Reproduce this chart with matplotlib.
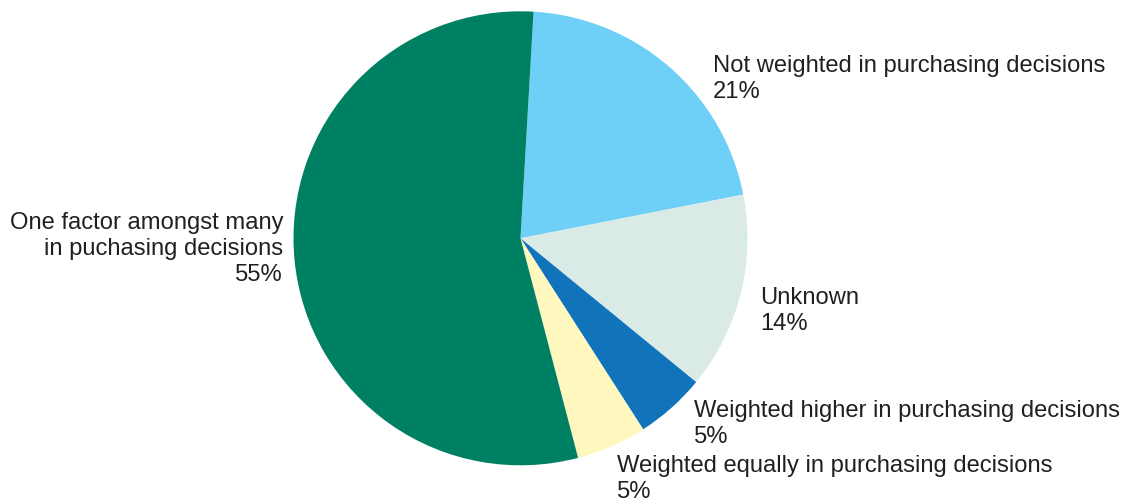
import matplotlib
matplotlib.use("Agg")
import matplotlib.pyplot as plt

categories = ["Not weighted in purchasing decisions", "Unknown",
              "Weighted higher in purchasing decisions",
              "Weighted equally in purchasing decisions",
              "One factor amongst many\nin puchasing decisions"]
values = [21, 14, 5, 5, 55]
pct_labels = ["21%", "14%", "5%", "5%", "55%"]
colors = ["#6ED0F6", "#D9EAE7", "#1174BB", "#FEF7BE", "#008062"]

W, H = 1130, 503
fig = plt.figure(figsize=(W / 100, H / 100), dpi=100)
ax = fig.add_axes([0, 0, 1, 1])

cx, cy, r = 520.5, H - 238.3, 227
ax.pie(values, colors=colors, startangle=86.7, counterclock=False,
       center=(cx, cy), radius=r, frame=True,
       wedgeprops=dict(linewidth=0, antialiased=True))
ax.set_xlim(0, W)
ax.set_ylim(0, H)
ax.axis("off")

tc = "#231F20"
fs = 17.1
fam = ["Liberation Sans", "DejaVu Sans"]

# (x, baseline y of first line, ha)
label_pos = [(713, 72, "left"), (760, 304, "left"), (694, 417, "left"),
             (617, 472, "left"), (283, 229, "right")]
lh = 26.2
for cat, pct, (x, y0, ha) in zip(categories, pct_labels, label_pos):
    lines = cat.split("\n") + [pct]
    for i, ln in enumerate(lines):
        ax.text(x, H - (y0 + i * lh), ln, ha=ha, va="baseline",
                fontsize=fs, color=tc, family=fam)

fig.savefig("out.png", dpi=100)
